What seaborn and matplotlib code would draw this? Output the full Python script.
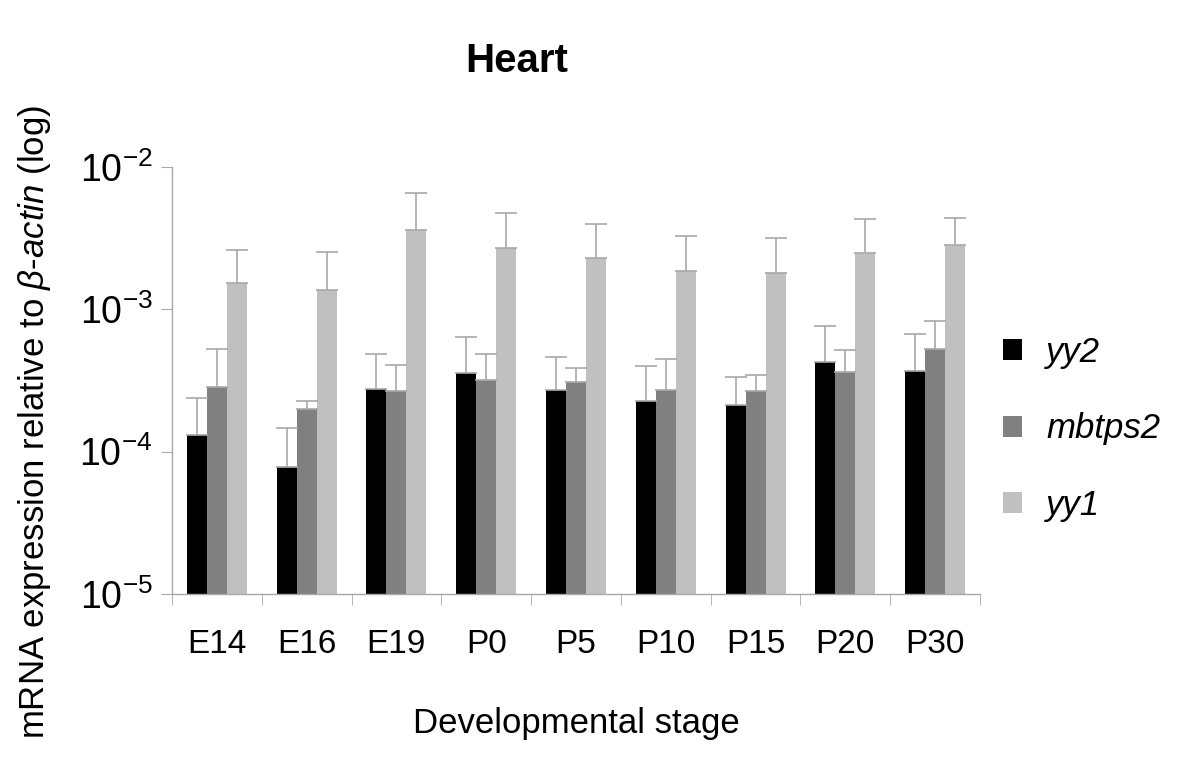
import numpy as np
import pandas as pd
import matplotlib
matplotlib.use("Agg")
import matplotlib.pyplot as plt
from matplotlib.patches import Patch
from matplotlib.ticker import NullLocator
import seaborn as sns

# values (log scale), upper error = SD
stages = ["E14", "E16", "E19", "P0", "P5", "P10", "P15", "P20", "P30"]
genes = ["yy2", "mbtps2", "yy1"]

yy2 = [1.31e-4, 7.8e-5, 2.74e-4, 3.56e-4, 2.73e-4, 2.26e-4, 2.14e-4, 4.27e-4, 3.69e-4]
mbtps2 = [2.83e-4, 2.0e-4, 2.68e-4, 3.19e-4, 3.07e-4, 2.7e-4, 2.66e-4, 3.61e-4, 5.25e-4]
yy1 = [1.52e-3, 1.36e-3, 3.6e-3, 2.69e-3, 2.3e-3, 1.86e-3, 1.81e-3, 2.48e-3, 2.82e-3]

yy2_sd = [1.06e-4, 6.8e-5, 2.09e-4, 2.81e-4, 1.87e-4, 1.72e-4, 1.19e-4, 3.42e-4, 3.06e-4]
mbtps2_sd = [2.42e-4, 2.6e-5, 1.39e-4, 1.67e-4, 7.9e-5, 1.76e-4, 8.1e-5, 1.6e-4, 3.0e-4]
yy1_sd = [1.09e-3, 1.16e-3, 2.95e-3, 2.07e-3, 1.66e-3, 1.41e-3, 1.35e-3, 1.82e-3, 1.55e-3]

colors = ["#000000", "#808080", "#c0c0c0"]

sns.set_style("white")
plt.rcParams['font.family'] = ['Liberation Sans', 'DejaVu Sans']
plt.rcParams['mathtext.fontset'] = 'custom'
plt.rcParams['mathtext.rm'] = 'Liberation Sans'
plt.rcParams['mathtext.it'] = 'Liberation Sans:italic'
plt.rcParams['text.color'] = 'black'
plt.rcParams['axes.labelcolor'] = 'black'
plt.rcParams['xtick.color'] = 'black'
plt.rcParams['ytick.color'] = 'black'

data = pd.DataFrame({
    "stage": stages * 3,
    "gene": [g for g in genes for _ in stages],
    "value": yy2 + mbtps2 + yy1,
})
sds = [yy2_sd, mbtps2_sd, yy1_sd]

fig = plt.figure(figsize=(12, 7.69), dpi=100)
ax = fig.add_axes([0.1433, 0.2276, 0.6734, 0.5553])

sns.barplot(data=data, x="stage", y="value", hue="gene", order=stages,
            hue_order=genes, palette=colors, width=0.667, gap=0,
            linewidth=0, errorbar=None, legend=False, ax=ax)

ax.set_yscale('log')

# upper-only error bars on top of each bar
for cont, sd in zip(ax.containers, sds):
    xs = [p.get_x() + p.get_width() / 2 for p in cont.patches]
    hs = [p.get_height() for p in cont.patches]
    ax.errorbar(xs, hs, yerr=[np.zeros(len(sd)), sd], fmt='none',
                ecolor='#a8a8a8', elinewidth=1.2, capsize=8, capthick=1.2)

ax.set_ylim(1e-5, 1e-2)
ax.set_xlim(-0.5, 8.5)
ax.set_yticks([1e-5, 1e-4, 1e-3, 1e-2])
ax.set_yticklabels([r"$\mathregular{10^{-5}}$", r"$\mathregular{10^{-4}}$",
                    r"$\mathregular{10^{-3}}$", r"$\mathregular{10^{-2}}$"])
ax.yaxis.set_minor_locator(NullLocator())
ax.set_xticks(np.arange(-0.5, 9, 1), minor=True)

for s in ["top", "right"]:
    ax.spines[s].set_visible(False)
for s in ["left", "bottom"]:
    ax.spines[s].set_color('#a8a8a8')
    ax.spines[s].set_linewidth(1.0)

ax.tick_params(axis='y', which='major', direction='out', length=8,
               color='#a8a8a8', labelcolor='black', labelsize=27, pad=6,
               left=True)
ax.tick_params(axis='x', which='major', length=0, labelsize=24, pad=25,
               labelcolor='black')
ax.tick_params(axis='x', which='minor', direction='out', length=8,
               color='#a8a8a8', bottom=True)

ax.set_xlabel("Developmental stage", fontsize=25, labelpad=34, color='black')
ax.set_ylabel("")
fig.text(0.029, 1 - 422 / 769,
         r"mRNA expression relative to $\mathit{\beta}$-$\mathit{actin}$ (log)",
         rotation=90, fontsize=25, ha='center', va='center', color='black')

fig.text(517 / 1200, 1 - 61 / 769, "Heart", fontsize=29, fontweight='bold',
         ha='center', va='center', color='black')

handles = [Patch(facecolor=c, edgecolor='none') for c in colors]
leg = fig.legend(handles, genes, loc='center left',
                 bbox_to_anchor=(1003 / 1200, 1 - 429 / 769), frameon=False,
                 prop={'style': 'italic', 'size': 25}, handlelength=0.55,
                 handleheight=0.55, handletextpad=0.7, labelspacing=1.25,
                 borderpad=0, borderaxespad=0)
for t in leg.get_texts():
    t.set_color('black')

plt.savefig("out.png", dpi=100)
plt.close()
